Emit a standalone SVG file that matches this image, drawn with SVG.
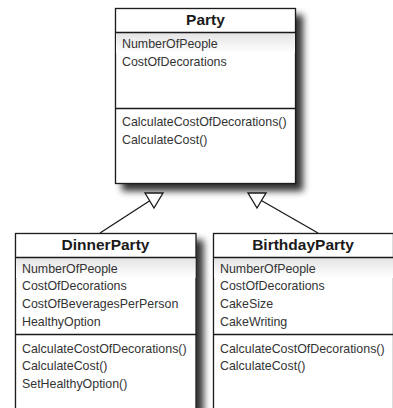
<svg xmlns="http://www.w3.org/2000/svg" width="393" height="408" viewBox="0 0 393 408">
<defs>
<filter id="sh" x="-20%" y="-20%" width="150%" height="150%">
<feGaussianBlur in="SourceAlpha" stdDeviation="3.5"/>
<feOffset dx="7" dy="7" result="b"/>
<feComponentTransfer><feFuncA type="linear" slope="0.8"/></feComponentTransfer>
<feMerge><feMergeNode/><feMergeNode in="SourceGraphic"/></feMerge>
</filter>
<linearGradient id="g" x1="0" y1="0" x2="0" y2="1">
<stop offset="0" stop-color="#e4e4e4"/>
<stop offset="1" stop-color="#ffffff"/>
</linearGradient>
</defs>
<style>
.box{fill:#fff;stroke:#1a1a1a;stroke-width:1.3}
.div{stroke:#1a1a1a;stroke-width:1.3}
.t{font-family:"Liberation Sans",Arial,sans-serif;font-weight:bold;font-size:15.5px;fill:#1a1a1a;text-anchor:middle}
.m{font-family:"Liberation Sans",Arial,sans-serif;font-size:12.4px;fill:#333}
.c{stroke:#1a1a1a;stroke-width:1.3;fill:none}
.tri{fill:#fff;stroke:#1a1a1a;stroke-width:1.3}
</style>
<g id="Party">
<rect class="box" x="115.5" y="8.5" width="180" height="175" filter="url(#sh)"/>
<rect x="116" y="33" width="179" height="20" fill="url(#g)"/>
<line class="div" x1="115.5" y1="32.5" x2="295.5" y2="32.5"/>
<line class="div" x1="115.5" y1="108.5" x2="295.5" y2="108.5"/>
<text class="t" x="205.5" y="25">Party</text>
<text class="m" x="122" y="48">NumberOfPeople</text>
<text class="m" x="122" y="65.7">CostOfDecorations</text>
<text class="m" x="122" y="126">CalculateCostOfDecorations()</text>
<text class="m" x="122" y="144">CalculateCost()</text>
</g>
<g id="connectors">
<line class="c" x1="100" y1="233" x2="154" y2="198"/>
<polygon class="tri" points="145,193 163,193 154,208"/>
<line class="c" x1="318" y1="233" x2="257" y2="198"/>
<polygon class="tri" points="248,193 266,193 257,208"/>
</g>
<g id="DinnerParty">
<rect class="box" x="15.5" y="233.5" width="180.5" height="190" filter="url(#sh)"/>
<rect x="16" y="258" width="179.5" height="20" fill="url(#g)"/>
<line class="div" x1="15.5" y1="257.5" x2="196" y2="257.5"/>
<line class="div" x1="15.5" y1="334.5" x2="196" y2="334.5"/>
<text class="t" x="105.5" y="250">DinnerParty</text>
<text class="m" x="22" y="272.7">NumberOfPeople</text>
<text class="m" x="22" y="290.4">CostOfDecorations</text>
<text class="m" x="22" y="308.1">CostOfBeveragesPerPerson</text>
<text class="m" x="22" y="325.8">HealthyOption</text>
<text class="m" x="22" y="352.6">CalculateCostOfDecorations()</text>
<text class="m" x="22" y="370.3">CalculateCost()</text>
<text class="m" x="22" y="388">SetHealthyOption()</text>
</g>
<g id="BirthdayParty">
<rect class="box" x="213.5" y="233.5" width="180" height="190" filter="url(#sh)"/>
<rect x="214" y="258" width="179" height="20" fill="url(#g)"/>
<line class="div" x1="213.5" y1="257.5" x2="393" y2="257.5"/>
<line class="div" x1="213.5" y1="334.5" x2="393" y2="334.5"/>
<text class="t" x="303" y="250">BirthdayParty</text>
<text class="m" x="220" y="272.7">NumberOfPeople</text>
<text class="m" x="220" y="290.4">CostOfDecorations</text>
<text class="m" x="220" y="308.1">CakeSize</text>
<text class="m" x="220" y="325.8">CakeWriting</text>
<text class="m" x="220" y="352.6">CalculateCostOfDecorations()</text>
<text class="m" x="220" y="370.3">CalculateCost()</text>
</g>
</svg>
